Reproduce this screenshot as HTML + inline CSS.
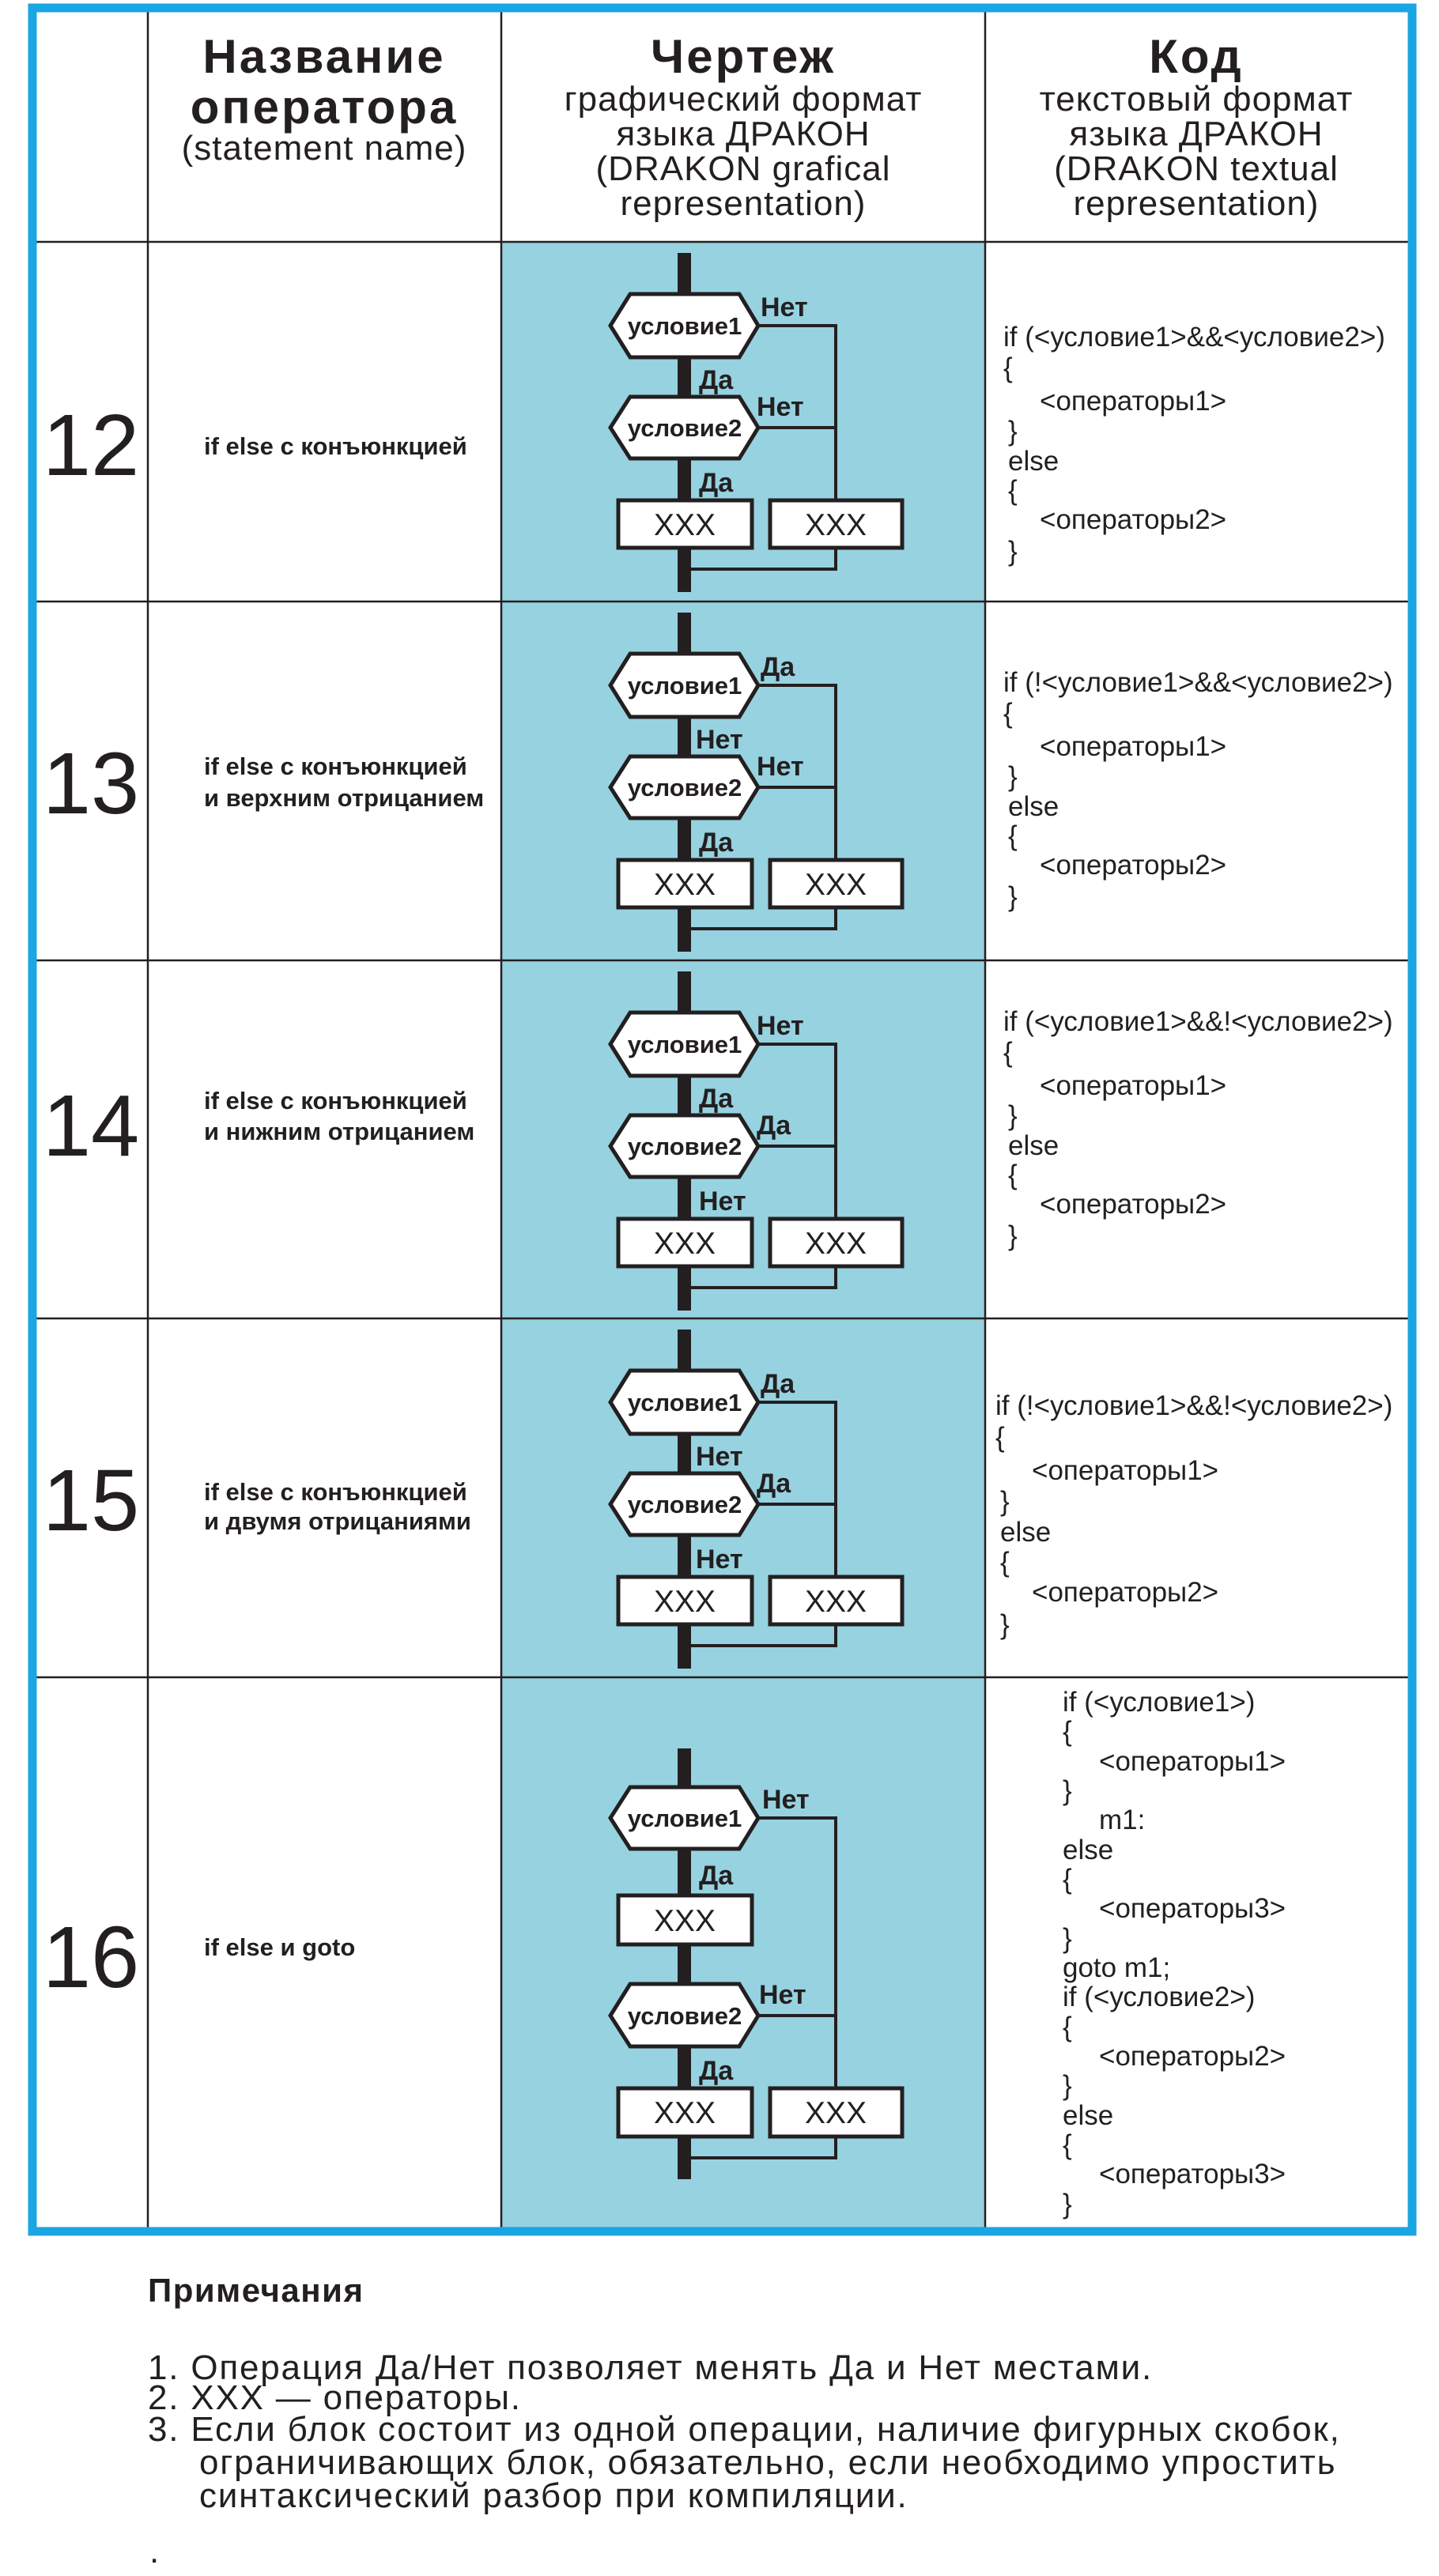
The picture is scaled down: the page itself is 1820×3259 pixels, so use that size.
<!DOCTYPE html>
<html><head><meta charset="utf-8"><style>
html,body{margin:0;padding:0;background:#fff}
svg{display:block}
text{font-family:"Liberation Sans",Arial,sans-serif;fill:#231f20}
.h{font-weight:bold;font-size:60px;text-anchor:middle;letter-spacing:3px}
.hs{font-size:44px;text-anchor:middle;letter-spacing:1px}
.num{font-size:110px;text-anchor:middle}
.nm{font-size:31px;font-weight:bold}
.cd{font-size:35px}
.c{font-size:31px;font-weight:bold;text-anchor:middle}
.x{font-size:39px;text-anchor:middle}
.l{font-size:34px;font-weight:bold}
.nt{font-size:44px;letter-spacing:1.8px}
</style></head><body>
<svg width="1820" height="3259" viewBox="0 0 1820 3259" xmlns="http://www.w3.org/2000/svg">
<defs>
<g id="fl" stroke="#231f20" fill="#fff">
<rect x="857" y="14" width="17" height="429" fill="#231f20" stroke="none"/>
<polygon points="772,106 797,66 935,66 959,106 935,146 797,146" stroke-width="5"/>
<polygon points="772,235 797,196 935,196 959,235 935,274 797,274" stroke-width="5"/>
<polyline points="959,106 1057,106 1057,327" fill="none" stroke-width="4"/>
<line x1="959" y1="235" x2="1057" y2="235" stroke-width="4"/>
<rect x="782" y="327" width="169" height="60" stroke-width="5"/>
<rect x="974" y="327" width="167" height="60" stroke-width="5"/>
<polyline points="1057,387 1057,414 866,414" fill="none" stroke-width="4"/>
</g>
</defs>
<rect x="634" y="306" width="612" height="2516" fill="#97d2e0"/>
<g stroke="#231f20" stroke-width="2.5">
<line x1="187" y1="10" x2="187" y2="2822"/>
<line x1="634" y1="10" x2="634" y2="2822"/>
<line x1="1246" y1="10" x2="1246" y2="2822"/>
<line x1="40" y1="306" x2="1786" y2="306"/>
<line x1="40" y1="761" x2="1786" y2="761"/>
<line x1="40" y1="1215" x2="1786" y2="1215"/>
<line x1="40" y1="1668" x2="1786" y2="1668"/>
<line x1="40" y1="2122" x2="1786" y2="2122"/>
</g>
<rect x="41" y="10" width="1745" height="2813" fill="none" stroke="#1aa5e3" stroke-width="11"/>
<text class="h" x="410" y="92">Название</text>
<text class="h" x="410" y="156">оператора</text>
<text class="hs" x="410" y="202">(statement name)</text>
<text class="h" x="940" y="92">Чертеж</text>
<text class="hs" x="940" y="140">графический формат</text>
<text class="hs" x="940" y="184">языка ДРАКОН</text>
<text class="hs" x="940" y="228">(DRAKON grafical</text>
<text class="hs" x="940" y="272">representation)</text>
<text class="h" x="1513" y="92">Код</text>
<text class="hs" x="1513" y="140">текстовый формат</text>
<text class="hs" x="1513" y="184">языка ДРАКОН</text>
<text class="hs" x="1513" y="228">(DRAKON textual</text>
<text class="hs" x="1513" y="272">representation)</text>
<text class="num" x="115" y="601">12</text>
<text class="num" x="115" y="1029">13</text>
<text class="num" x="115" y="1462">14</text>
<text class="num" x="115" y="1936">15</text>
<text class="num" x="115" y="2514">16</text>
<text class="nm" x="258" y="575">if else с конъюнкцией</text>
<text class="nm" x="258" y="980">if else с конъюнкцией</text>
<text class="nm" x="258" y="1020">и верхним отрицанием</text>
<text class="nm" x="258" y="1403">if else с конъюнкцией</text>
<text class="nm" x="258" y="1442">и нижним отрицанием</text>
<text class="nm" x="258" y="1898">if else с конъюнкцией</text>
<text class="nm" x="258" y="1935">и двумя отрицаниями</text>
<text class="nm" x="258" y="2474">if else и goto</text>
<g transform="translate(0,306)"><use href="#fl"/>
<text class="c" x="866" y="117">условие1</text><text class="c" x="866" y="246">условие2</text>
<text class="x" x="866" y="371">XXX</text><text class="x" x="1057" y="371">XXX</text>
<text class="l" x="962" y="94">Нет</text><text class="l" x="884" y="186">Да</text>
<text class="l" x="957" y="220">Нет</text><text class="l" x="884" y="316">Да</text></g>
<g transform="translate(0,761)"><use href="#fl"/>
<text class="c" x="866" y="117">условие1</text><text class="c" x="866" y="246">условие2</text>
<text class="x" x="866" y="371">XXX</text><text class="x" x="1057" y="371">XXX</text>
<text class="l" x="962" y="94">Да</text><text class="l" x="880" y="186">Нет</text>
<text class="l" x="957" y="220">Нет</text><text class="l" x="884" y="316">Да</text></g>
<g transform="translate(0,1215)"><use href="#fl"/>
<text class="c" x="866" y="117">условие1</text><text class="c" x="866" y="246">условие2</text>
<text class="x" x="866" y="371">XXX</text><text class="x" x="1057" y="371">XXX</text>
<text class="l" x="957" y="94">Нет</text><text class="l" x="884" y="186">Да</text>
<text class="l" x="957" y="220">Да</text><text class="l" x="884" y="316">Нет</text></g>
<g transform="translate(0,1668)"><use href="#fl"/>
<text class="c" x="866" y="117">условие1</text><text class="c" x="866" y="246">условие2</text>
<text class="x" x="866" y="371">XXX</text><text class="x" x="1057" y="371">XXX</text>
<text class="l" x="962" y="94">Да</text><text class="l" x="880" y="186">Нет</text>
<text class="l" x="957" y="220">Да</text><text class="l" x="880" y="316">Нет</text></g>
<g stroke="#231f20" fill="#fff">
<rect x="857" y="2212" width="17" height="545" fill="#231f20" stroke="none"/>
<polygon points="772,2300 797,2261 935,2261 959,2300 935,2339 797,2339" stroke-width="5"/>
<rect x="782" y="2398" width="169" height="62" stroke-width="5"/>
<polygon points="772,2550 797,2510 935,2510 959,2550 935,2589 797,2589" stroke-width="5"/>
<polyline points="959,2300 1057,2300 1057,2642" fill="none" stroke-width="4"/>
<line x1="959" y1="2550" x2="1057" y2="2550" stroke-width="4"/>
<rect x="782" y="2642" width="169" height="61" stroke-width="5"/>
<rect x="974" y="2642" width="167" height="61" stroke-width="5"/>
<polyline points="1057,2703 1057,2730 866,2730" fill="none" stroke-width="4"/>
</g>
<text class="c" x="866" y="2311">условие1</text><text class="c" x="866" y="2561">условие2</text>
<text class="x" x="866" y="2443">XXX</text><text class="x" x="866" y="2686">XXX</text><text class="x" x="1057" y="2686">XXX</text>
<text class="l" x="964" y="2288">Нет</text><text class="l" x="884" y="2384">Да</text>
<text class="l" x="960" y="2535">Нет</text><text class="l" x="884" y="2631">Да</text>
<g>
<text class="cd" x="1269" y="438">if (&lt;условие1&gt;&amp;&amp;&lt;условие2&gt;)</text>
<text class="cd" x="1269" y="477">{</text>
<text class="cd" x="1315" y="519">&lt;операторы1&gt;</text>
<text class="cd" x="1275" y="557">}</text>
<text class="cd" x="1275" y="595">else</text>
<text class="cd" x="1275" y="632">{</text>
<text class="cd" x="1315" y="669">&lt;операторы2&gt;</text>
<text class="cd" x="1275" y="709">}</text>

<text class="cd" x="1269" y="875">if (!&lt;условие1&gt;&amp;&amp;&lt;условие2&gt;)</text>
<text class="cd" x="1269" y="914">{</text>
<text class="cd" x="1315" y="956">&lt;операторы1&gt;</text>
<text class="cd" x="1275" y="994">}</text>
<text class="cd" x="1275" y="1032">else</text>
<text class="cd" x="1275" y="1069">{</text>
<text class="cd" x="1315" y="1106">&lt;операторы2&gt;</text>
<text class="cd" x="1275" y="1146">}</text>

<text class="cd" x="1269" y="1304">if (&lt;условие1&gt;&amp;&amp;!&lt;условие2&gt;)</text>
<text class="cd" x="1269" y="1343">{</text>
<text class="cd" x="1315" y="1385">&lt;операторы1&gt;</text>
<text class="cd" x="1275" y="1423">}</text>
<text class="cd" x="1275" y="1461">else</text>
<text class="cd" x="1275" y="1498">{</text>
<text class="cd" x="1315" y="1535">&lt;операторы2&gt;</text>
<text class="cd" x="1275" y="1575">}</text>

<text class="cd" x="1259" y="1790">if (!&lt;условие1&gt;&amp;&amp;!&lt;условие2&gt;)</text>
<text class="cd" x="1259" y="1830">{</text>
<text class="cd" x="1305" y="1872">&lt;операторы1&gt;</text>
<text class="cd" x="1265" y="1911">}</text>
<text class="cd" x="1265" y="1950">else</text>
<text class="cd" x="1265" y="1988">{</text>
<text class="cd" x="1305" y="2026">&lt;операторы2&gt;</text>
<text class="cd" x="1265" y="2067">}</text>

<text class="cd" x="1344" y="2165">if (&lt;условие1&gt;)</text>
<text class="cd" x="1344" y="2202">{</text>
<text class="cd" x="1390" y="2240">&lt;операторы1&gt;</text>
<text class="cd" x="1344" y="2277">}</text>
<text class="cd" x="1390" y="2314">m1:</text>
<text class="cd" x="1344" y="2352">else</text>
<text class="cd" x="1344" y="2389">{</text>
<text class="cd" x="1390" y="2426">&lt;операторы3&gt;</text>
<text class="cd" x="1344" y="2464">}</text>
<text class="cd" x="1344" y="2501">goto m1;</text>
<text class="cd" x="1344" y="2538">if (&lt;условие2&gt;)</text>
<text class="cd" x="1344" y="2576">{</text>
<text class="cd" x="1390" y="2613">&lt;операторы2&gt;</text>
<text class="cd" x="1344" y="2650">}</text>
<text class="cd" x="1344" y="2688">else</text>
<text class="cd" x="1344" y="2725">{</text>
<text class="cd" x="1390" y="2762">&lt;операторы3&gt;</text>
<text class="cd" x="1344" y="2800">}</text>
</g>
<text x="187" y="2912" style="font-size:42px;font-weight:bold;letter-spacing:1.5px">Примечания</text>
<text class="nt" x="187" y="3010">1. Операция Да/Нет позволяет менять Да и Нет местами.</text>
<text class="nt" x="187" y="3048">2. XXX — операторы.</text>
<text class="nt" x="187" y="3088">3. Если блок состоит из одной операции, наличие фигурных скобок,</text>
<text class="nt" x="252" y="3130">ограничивающих блок, обязательно, если необходимо упростить</text>
<text class="nt" x="252" y="3172">синтаксический разбор при компиляции.</text>
<text class="nt" x="189" y="3242">.</text>
</svg>
</body></html>
